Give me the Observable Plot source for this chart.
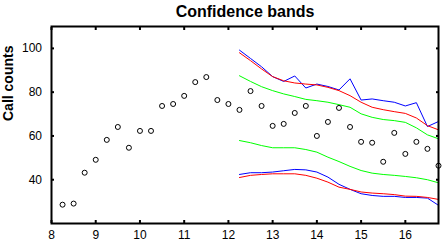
<!DOCTYPE html>
<html>
<head>
<meta charset="utf-8">
<script src="https://cdn.jsdelivr.net/npm/d3@7"></script>
<script src="https://cdn.jsdelivr.net/npm/@observablehq/plot@0.6"></script>
<style>
  html, body { margin: 0; padding: 0; background: #fff; }
</style>
</head>
<body>
<div id="chart"></div>
<script>
const pointX = [8.25, 8.5, 8.75, 9, 9.25, 9.5, 9.75, 10, 10.25, 10.5, 10.75, 11, 11.25, 11.5, 11.75, 12,
  12.25, 12.5, 12.75, 13, 13.25, 13.5, 13.75, 14, 14.25, 14.5, 14.75, 15, 15.25, 15.5, 15.75, 16, 16.25, 16.5, 16.75];
const counts = [28.6, 29.1, 43.2, 49.1, 58.2, 64.1, 54.6, 62.3, 62.3, 73.7, 74.6, 78.3, 84.6, 86.9, 76.4, 74.6,
  71.9, 80.5, 73.7, 64.6, 65.5, 70.5, 73.7, 60.0, 66.4, 72.8, 64.1, 57.3, 56.9, 48.2, 61.4, 51.8, 57.3, 54.1, 46.4];

const bandX = [12.25, 12.5, 12.75, 13, 13.25, 13.5, 13.75, 14, 14.25, 14.5, 14.75, 15, 15.25, 15.5, 15.75, 16, 16.25, 16.5, 16.75];
const upperBlue  = [99.2, 95.4, 91.6, 87.1, 84.9, 87.4, 81.9, 83.7, 82.6, 81.0, 86.1, 76.4, 76.9, 76.1, 75.4, 73.7, 75.2, 64.3, 66.6];
const upperRed   = [98.0, 94.4, 90.6, 87.1, 85.2, 84.2, 83.7, 83.3, 82.2, 80.7, 78.4, 75.4, 73.1, 72.0, 71.1, 70.3, 68.2, 64.7, 62.8];
const upperGreen = [87.5, 84.9, 82.5, 80.7, 79.2, 78.0, 76.7, 76.1, 75.4, 74.3, 73.1, 70.1, 68.5, 67.5, 67.0, 66.2, 63.7, 60.5, 58.7];
const lowerGreen = [57.9, 56.9, 55.6, 54.6, 54.6, 54.6, 53.8, 52.6, 50.3, 48.3, 46.1, 44.2, 43.0, 42.4, 42.0, 41.5, 40.9, 40.0, 38.6];
const lowerBlue  = [42.4, 43.2, 43.2, 43.5, 44.1, 44.7, 44.5, 43.5, 41.2, 37.9, 35.6, 33.6, 32.8, 32.4, 32.4, 31.9, 31.9, 31.6, 28.3];
const lowerRed   = [41.0, 42.0, 42.4, 42.7, 42.7, 42.7, 42.0, 40.7, 38.9, 36.6, 35.6, 34.4, 33.9, 33.6, 33.2, 32.5, 32.4, 31.9, 31.0];

const xTicks = [8, 9, 10, 11, 12, 13, 14, 15, 16];
const yTicks = [40, 60, 80, 100];
const titleText = "Confidence bands";
const yLabelText = "Call counts";

const points = pointX.map((x, i) => ({x, y: counts[i]}));
const band = (vals) => bandX.map((x, i) => ({x, y: vals[i]}));

const font = "'Liberation Sans', Arial, Helvetica, sans-serif";

const chart = Plot.plot({
  width: 442,
  height: 250,
  marginLeft: 51,
  marginRight: 4,
  marginTop: 26,
  marginBottom: 27,
  style: {fontFamily: font, fontSize: "12px", color: "black", background: "white"},
  x: {domain: [8, 16.75], label: null},
  y: {domain: [20, 110], label: null},
  marks: [
    Plot.line(band(upperGreen), {x: "x", y: "y", stroke: "#00ff00", strokeWidth: 1}),
    Plot.line(band(lowerGreen), {x: "x", y: "y", stroke: "#00ff00", strokeWidth: 1}),
    Plot.line(band(upperBlue), {x: "x", y: "y", stroke: "#0000ff", strokeWidth: 1}),
    Plot.line(band(lowerBlue), {x: "x", y: "y", stroke: "#0000ff", strokeWidth: 1}),
    Plot.line(band(upperRed), {x: "x", y: "y", stroke: "#ff0000", strokeWidth: 1}),
    Plot.line(band(lowerRed), {x: "x", y: "y", stroke: "#ff0000", strokeWidth: 1}),
    Plot.dot(points, {x: "x", y: "y", r: 2.5, stroke: "black", strokeWidth: 1, fill: "none"}),
    Plot.axisX({anchor: "bottom", ticks: xTicks, tickSize: -3, tickPadding: 10, strokeWidth: 2, fontSize: 12, fill: "black"}),
    Plot.axisX({anchor: "top", ticks: xTicks, tickSize: -3, tickFormat: () => "", strokeWidth: 2}),
    Plot.axisY({anchor: "left", ticks: yTicks, tickSize: -3, tickPadding: 12.5, strokeWidth: 2, fontSize: 12, fill: "black"}),
    Plot.axisY({anchor: "right", ticks: yTicks, tickSize: -3, tickFormat: () => "", strokeWidth: 2}),
    Plot.frame({stroke: "black", strokeWidth: 2}),
    Plot.text([titleText], {text: d => d, frameAnchor: "top", lineAnchor: "bottom", dy: -10,
      fontSize: 16, fontWeight: "bold", fill: "black"}),
    Plot.text([yLabelText], {text: d => d, frameAnchor: "left", rotate: -90, dx: -43, dy: -4,
      fontSize: 14, fontWeight: "bold", fill: "black"})
  ]
});
document.getElementById("chart").appendChild(chart);
</script>
</body>
</html>
